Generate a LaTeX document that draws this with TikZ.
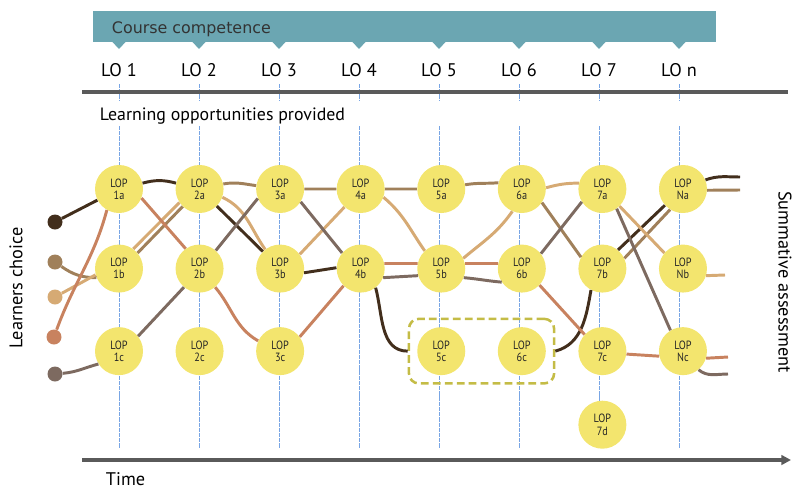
\documentclass[tikz,border=0pt]{standalone}
\usepackage{fontspec}
\setmainfont{PT Sans}
\newfontfamily\bannerfont{DejaVu Sans}
\newfontfamily\lopfont[FakeStretch=0.86]{PT Sans}
\usepackage{xcolor}
\usetikzlibrary{arrows.meta,positioning,fit}

\definecolor{bannerteal}{RGB}{107,166,178}
\definecolor{lopyellow}{RGB}{243,229,110}
\definecolor{boxolive}{RGB}{196,188,70}
\definecolor{guideblue}{RGB}{120,165,228}
\definecolor{linegray}{RGB}{90,90,90}
\definecolor{pdark}{RGB}{66,46,28}
\definecolor{pmid}{RGB}{160,128,90}
\definecolor{plight}{RGB}{214,170,116}
\definecolor{psalmon}{RGB}{200,130,95}
\definecolor{pgray}{RGB}{125,106,96}

\begin{document}
\begin{tikzpicture}[
  x=0.25mm, y=-0.25mm,
  node distance=7.75mm and 8mm,
  lop/.style={circle, fill=lopyellow, minimum size=12mm, inner sep=0pt, align=center, font=\lopfont\fontsize{8.5}{8.8}\selectfont, text=black!85},
  choice/.style={circle, minimum size=3.75mm, inner sep=0pt},
  lolabel/.style={anchor=base, font=\fontsize{13}{15}\selectfont},
  caption/.style={font=\fontsize{13}{15}\selectfont},
  guide/.style={draw=guideblue, line width=0.6pt, dash pattern=on 3pt off 0.7pt},
  timeline/.style={draw=linegray, line width=2.6pt},
  track/.style={line width=2.1pt},
  grpbox/.style={draw=boxolive, line width=1.8pt, dash pattern=on 5.5pt off 3pt, rounded corners=7pt, inner sep=2mm},
]
\useasboundingbox (0,0) rectangle (796,488);

% guide lines per learning outcome
\foreach \x in {119,199,279,359,439,519,599,679} {
  \draw[guide] (\x,84) -- (\x,100);
  \draw[guide] (\x,126) -- (\x,448);
}

% course competence banner
\fill[bannerteal] (93,11) rectangle (716,42);
\foreach \x in {119,199,279,359,439,519,599,679}
  \fill[bannerteal] (\x-7,41.5) -- (\x+7,41.5) -- (\x,49) -- cycle;
\node[anchor=base west, font=\bannerfont\fontsize{11.3}{13}\selectfont, text=black!80] (comp) at (107,33) {Course competence};

\node[lolabel] (lo1) at (119,76) {LO 1};
\node[lolabel] (lo2) at (199,76) {LO 2};
\node[lolabel] (lo3) at (279,76) {LO 3};
\node[lolabel] (lo4) at (359,76) {LO 4};
\node[lolabel] (lo5) at (439,76) {LO 5};
\node[lolabel] (lo6) at (519,76) {LO 6};
\node[lolabel] (lo7) at (599,76) {LO 7};
\node[lolabel] (lon) at (679,76) {LO n};

\draw[timeline] (82,92) -- (788,92);
\node[caption, anchor=base west, font=\fontsize{12.7}{15}\selectfont] (provided) at (95,120) {Learning opportunities provided};

% learning opportunities
\node[lop] (lop1a) at (119,189) {LOP\\1a};
\node[lop, right=of lop1a] (lop2a) {LOP\\2a};
\node[lop, right=of lop2a] (lop3a) {LOP\\3a};
\node[lop, right=of lop3a] (lop4a) {LOP\\4a};
\node[lop, right=of lop4a] (lop5a) {LOP\\5a};
\node[lop, right=of lop5a] (lop6a) {LOP\\6a};
\node[lop, right=of lop6a] (lop7a) {LOP\\7a};
\node[lop, right=of lop7a] (lopNa) {LOP\\Na};

\node[lop, below=of lop1a] (lop1b) {LOP\\1b};
\node[lop, below=of lop2a] (lop2b) {LOP\\2b};
\node[lop, below=of lop3a] (lop3b) {LOP\\3b};
\node[lop, below=of lop4a] (lop4b) {LOP\\4b};
\node[lop, below=of lop5a] (lop5b) {LOP\\5b};
\node[lop, below=of lop6a] (lop6b) {LOP\\6b};
\node[lop, below=of lop7a] (lop7b) {LOP\\7b};
\node[lop, below=of lopNa] (lopNb) {LOP\\Nb};

\node[lop, below=8.5mm of lop1b] (lop1c) {LOP\\1c};
\node[lop, below=8.5mm of lop2b] (lop2c) {LOP\\2c};
\node[lop, below=8.5mm of lop3b] (lop3c) {LOP\\3c};
\node[lop, below=8.5mm of lop5b] (lop5c) {LOP\\5c};
\node[lop, below=8.5mm of lop6b] (lop6c) {LOP\\6c};
\node[lop, below=8.5mm of lop7b] (lop7c) {LOP\\7c};
\node[lop, below=8.5mm of lopNb] (lopNc) {LOP\\Nc};

\node[lop, below=6.25mm of lop7c] (lop7d) {LOP\\7d};

\node[grpbox, fit=(lop5c)(lop6c)] (grp56) {};

% learners' starting choices
\node[choice, fill=pdark] (ch1) at (55,222) {};
\node[choice, fill=pmid] (ch2) at (55,262) {};
\node[choice, fill=plight] (ch3) at (55,297) {};
\node[choice, fill=psalmon] (ch4) at (54,337) {};
\node[choice, fill=pgray] (ch5) at (55,374) {};

\coordinate (exa1) at (740,177);
\coordinate (exa2) at (740,190);
\coordinate (exb) at (725,275);
\coordinate (exc1) at (728,357);
\coordinate (exc2) at (728,374);

% learner paths
\draw[track, pdark] (ch1) -- (lop1a)
  (lop1a.14) to[out=15,in=165] (lop2a.166)
  (lop2a) -- (lop3b)
  (lop3b.-10) -- (lop4b.178)
  (lop4b.-52) to[out=-75,in=180] (grp56.west)
  (grp56.east) to[out=15,in=-100] (lop7b.-118)
  (lop7b.50) -- (lopNa.-138)
  (lopNa.22) to[out=20,in=180] (exa1);
\draw[track, pmid] (ch2) to[out=-35,in=180] (lop1b.-158)
  (lop1b.40) -- (lop2a.-134)
  (lop2a.12) to[out=10,in=172] (lop3a.172)
  (lop3a) -- (lop4a)
  (lop4a) -- (lop5a)
  (lop5a.10) to[out=10,in=185] (lop6a.165)
  (lop6a.-34) -- (lop7b.152)
  (lop7b.25) -- (lopNa.-122)
  (lopNa.-3) -- (exa2);
\draw[track, plight] (ch3) -- (lop1b.-165)
  (lop1b.54) -- (lop2a.-146)
  (lop2a.-20) to[out=-25,in=125] (lop3b.128)
  (lop3b.36) -- (lop4a.-132)
  (lop4a.-20) to[out=-40,in=125] (lop5b.133)
  (lop5b.25) to[out=40,in=-125] (lop6a.-113)
  (lop6a.3) to[out=15,in=180] (lop7a.166)
  (lop7a.-45) -- (lopNb.140)
  (lopNb.-17) -- (exb);
\draw[track, psalmon] (ch4) to[out=70,in=-105] (lop1a.-120)
  (lop1a.-22) -- (lop2b.125)
  (lop2b.-50) to[out=-50,in=150] (lop3c.155)
  (lop3c.36) -- (lop4b.-135)
  (lop4b.12) -- (lop5b.168)
  (lop5b.12) -- (lop6b.168)
  (lop6b.-43) -- (lop7c.137)
  (lop7c.-7) -- (lopNc.-168)
  (lopNc.-17) -- (exc1);
\draw[track, pgray] (ch5) to[out=5,in=195] (lop1c.-148)
  (lop1c.38) -- (lop2b.-130)
  (lop2b.48) -- (lop3a.-157)
  (lop3a.-32) -- (lop4b.140)
  (lop4b.-22) -- (lop5b.-163)
  (lop5b.-22) to[out=-5,in=175] (lop6b.-146)
  (lop6b.38) -- (lop7a.-148)
  (lop7a.-54) -- (lopNc.121)
  (lopNc.-50) to[out=-40,in=180] (exc2);

\node[caption, rotate=90] (learners) at (16,288) {Learners choice};
\node[caption, rotate=-90] (summative) at (785,282) {Summative assessment};

\draw[timeline, -{Triangle[length=2.4mm,width=2.4mm]}] (82,460) -- (791,460);
\node[caption, anchor=base west] (time) at (101,485) {Time};
\end{tikzpicture}
\end{document}
